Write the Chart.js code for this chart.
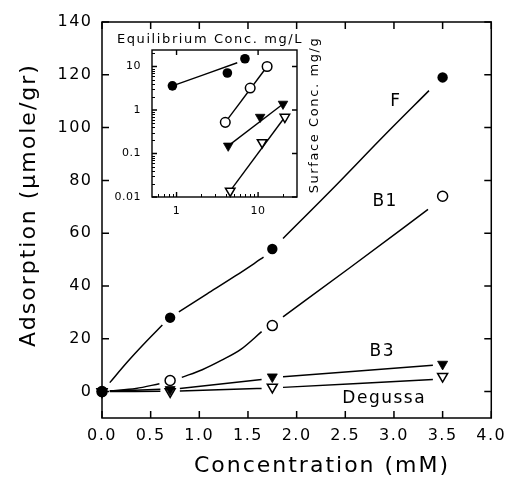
<!DOCTYPE html>
<html><head><meta charset="utf-8">
<script src="https://cdn.jsdelivr.net/npm/chart.js@4.4.1/dist/chart.umd.min.js"></script>
<style>
html,body{margin:0;padding:0;background:#fff;}
#wrap{position:relative;width:512px;height:484px;background:#fff;}
#main{position:absolute;left:0;top:0;}
#inset{position:absolute;left:104px;top:24px;}
</style></head><body>
<div id="wrap"><canvas id="main" width="512" height="484"></canvas><canvas id="inset" width="222" height="196"></canvas></div>
<script>
// ---------- main chart data ----------
const concentrations = [0, 0.7, 1.75, 3.5];
const adsF   = [0, 28, 54, 119];
const adsB1  = [0, 4.2, 25, 74];
const adsB3  = [0, 0.8, 5.6, 10.4];
const adsDeg = [0, 0, 1.7, 5.8];

// fitted curves as drawn (null = gap in the drawn line)
const curveFX  = [0.08, 0.26, 0.44, 0.62, null, 0.79, 1.08, 1.37, 1.66, null, 1.86, 2.39, 2.9, 3.36];
const curveFY  = [3.4, 11.2, 18.4, 25.2, null, 30.2, 37, 43.8, 50.9, null, 58, 77.6, 97, 114];
const curveB1X = [0.08, 0.35, 0.59, null, 0.82, 1.03, 1.23, 1.43, 1.64, null, 1.86, 2.55, 3.35];
const curveB1Y = [0.3, 1.2, 3, null, 5.4, 8.3, 11.9, 16.1, 22.7, null, 28.3, 47, 69];
const curveB3X = [0.08, 0.6, null, 0.8, 1.64, null, 1.86, 3.4];
const curveB3Y = [0.2, 0.9, null, 1.2, 4.6, null, 5.6, 10];
const curveDegX = [0.08, 0.6, null, 0.8, 1.64, null, 1.86, 3.4];
const curveDegY = [0, 0.1, null, 0.2, 1.2, null, 1.6, 4.6];

const xTicks = [0, 0.5, 1, 1.5, 2, 2.5, 3, 3.5, 4];
const yTicks = [0, 20, 40, 60, 80, 100, 120, 140];

const seriesLabels = ['F', 'B1', 'B3', 'Degussa'];
const labelX = [3.02, 2.91, 2.88, 2.9];
const labelY = [110, 72, 15, -2.5];

// ---------- inset data (log-log) ----------
const eqF   = [0.89, 4.2, 6.9];   const surfF   = [3.6, 7.1, 15.1];
const eqB1  = [3.96, 8.0, 12.9];  const surfB1  = [0.52, 3.2, 10];
const eqB3  = [4.3, 10.6, 20.2];  const surfB3  = [0.15, 0.69, 1.38];
const eqDeg = [4.55, 11.2, 21.3]; const surfDeg = [0.0138, 0.18, 0.69];
const fitFX = [0.89, 5.55];   const fitFY = [3.6, 12.2];
const fitB1X = [3.96, 12.9];  const fitB1Y = [0.52, 10];
const fitB3X = [4.3, 20.2];   const fitB3Y = [0.15, 1.38];
const fitDegX = [4.55, 21.3]; const fitDegY = [0.0138, 0.69];
const insetXTicks = [1, 10];
const insetYTicks = [0.01, 0.1, 1, 10];

// ---------- helpers ----------
const FONT = 'DejaVu Sans';
const pts = (xs, ys) => xs.map((x, i) => ({x, y: ys[i]}));
function segs(xs, ys) {
  const out = []; let cur = [];
  xs.forEach((x, i) => {
    if (x === null) { if (cur.length) out.push(cur); cur = []; }
    else cur.push({x, y: ys[i]});
  });
  if (cur.length) out.push(cur);
  return out;
}
const markerBase = {type: 'scatter', showLine: false, clip: false, pointHoverRadius: 0};
const styles = [
  {pointStyle: 'circle', pointRadius: 5.2, pointBackgroundColor: '#000', pointBorderColor: '#000', pointBorderWidth: 0},
  {pointStyle: 'circle', pointRadius: 5, pointBackgroundColor: '#fff', pointBorderColor: '#000', pointBorderWidth: 1.5},
  {pointStyle: 'triangle', rotation: 180, pointRadius: 5.8, pointBackgroundColor: '#000', pointBorderColor: '#000', pointBorderWidth: 0.8},
  {pointStyle: 'triangle', rotation: 180, pointRadius: 5.8, pointBackgroundColor: '#fff', pointBorderColor: '#000', pointBorderWidth: 1.5}
];
function lineDs(data, w) {
  return {type: 'scatter', showLine: true, data, borderColor: '#000', borderWidth: w,
          pointRadius: 0, pointHoverRadius: 0, cubicInterpolationMode: 'monotone', fill: false, clip: false};
}

// ---------- main chart ----------
const mainSets = [
  {...markerBase, ...styles[0], data: pts(concentrations, adsF)},
  {...markerBase, ...styles[1], data: pts(concentrations, adsB1)},
  {...markerBase, ...styles[2], data: pts(concentrations, adsB3)},
  {...markerBase, ...styles[3], data: pts(concentrations, adsDeg)}
];
[[curveFX, curveFY], [curveB1X, curveB1Y], [curveB3X, curveB3Y], [curveDegX, curveDegY]]
  .forEach(([xs, ys]) => segs(xs, ys).forEach(s => mainSets.push(lineDs(s, 1.5))));

const mainDecor = {
  id: 'mainDecor',
  beforeDraw(chart) { chart.ctx.letterSpacing = '1.5px'; },
  beforeDatasetsDraw(chart) {
    const {ctx, chartArea: a, scales: {x, y}} = chart;
    ctx.save();
    ctx.strokeStyle = '#000'; ctx.lineWidth = 1.5;
    ctx.strokeRect(a.left, a.top, a.right - a.left, a.bottom - a.top);
    ctx.beginPath();
    xTicks.forEach(v => { const p = x.getPixelForValue(v);
      ctx.moveTo(p, a.bottom); ctx.lineTo(p, a.bottom - 7);
      ctx.moveTo(p, a.top); ctx.lineTo(p, a.top + 7); });
    yTicks.forEach(v => { const p = y.getPixelForValue(v);
      ctx.moveTo(a.left, p); ctx.lineTo(a.left + 7, p);
      ctx.moveTo(a.right, p); ctx.lineTo(a.right - 7, p); });
    ctx.stroke();
    ctx.restore();
  },
  afterDraw(chart) {
    const {ctx, scales: {x, y}} = chart;
    ctx.save();
    ctx.fillStyle = '#000';
    ctx.textAlign = 'center'; ctx.textBaseline = 'middle';
    ctx.font = '22px "' + FONT + '"';
    ctx.letterSpacing = '2px';
    ctx.fillText('Concentration (mM)', 322, 466);
    ctx.save();
    ctx.translate(29, 205); ctx.rotate(-Math.PI / 2);
    ctx.fillText('Adsorption (\u03BCmole/gr)', 0, 0);
    ctx.restore();
    ctx.font = '17px "' + FONT + '"';
    ctx.letterSpacing = '1.5px';
    seriesLabels.forEach((t, i) => ctx.fillText(t, x.getPixelForValue(labelX[i]), y.getPixelForValue(labelY[i])));
    ctx.restore();
  }
};

new Chart(document.getElementById('main'), {
  data: {datasets: mainSets},
  options: {
    responsive: false, animation: false, devicePixelRatio: 1, events: [],
    layout: {padding: {top: 22, right: 17, left: 0, bottom: 0}},
    plugins: {legend: {display: false}, tooltip: {enabled: false}},
    scales: {
      x: {type: 'linear', min: 0, max: 4, position: 'bottom',
          grid: {display: false, drawTicks: false}, border: {display: false},
          ticks: {padding: 8, autoSkip: false, maxRotation: 0, color: '#000',
                  font: {family: FONT, size: 16}, callback: v => Number(v).toFixed(1)},
          afterBuildTicks: s => { s.ticks = xTicks.map(v => ({value: v})); },
          afterFit: s => { s.height = 66; }},
      y: {type: 'linear', min: -10, max: 140, position: 'left',
          grid: {display: false, drawTicks: false}, border: {display: false},
          ticks: {padding: 9.5, color: '#000', font: {family: FONT, size: 16}, callback: v => String(v)},
          afterBuildTicks: s => { s.ticks = yTicks.map(v => ({value: v})); },
          afterFit: s => { s.width = 102; }}
    }
  },
  plugins: [mainDecor]
});

// ---------- inset chart ----------
const insetSets = [
  {...markerBase, ...styles[0], pointRadius: 4.8, data: pts(eqF, surfF)},
  {...markerBase, ...styles[1], pointRadius: 4.8, data: pts(eqB1, surfB1)},
  {...markerBase, ...styles[2], pointRadius: 5.5, data: pts(eqB3, surfB3)},
  {...markerBase, ...styles[3], pointRadius: 5.5, data: pts(eqDeg, surfDeg)},
  lineDs(pts(fitFX, fitFY), 1.4),
  lineDs(pts(fitB1X, fitB1Y), 1.4),
  lineDs(pts(fitB3X, fitB3Y), 1.4),
  lineDs(pts(fitDegX, fitDegY), 1.4)
];

function minorLog(min, max) {
  const out = [];
  for (let e = Math.floor(Math.log10(min)); e <= Math.ceil(Math.log10(max)); e++) {
    for (let k = 2; k <= 9; k++) { const v = k * Math.pow(10, e); if (v > min && v < max) out.push(v); }
  }
  return out;
}

const insetDecor = {
  id: 'insetDecor',
  beforeDraw(chart) { chart.ctx.letterSpacing = '0.5px'; },
  beforeDatasetsDraw(chart) {
    const {ctx, chartArea: a, scales: {x, y}} = chart;
    ctx.save();
    ctx.strokeStyle = '#000'; ctx.lineWidth = 1.4;
    ctx.strokeRect(a.left, a.top, a.right - a.left, a.bottom - a.top);
    ctx.beginPath();
    insetXTicks.forEach(v => { const p = x.getPixelForValue(v);
      ctx.moveTo(p, a.bottom); ctx.lineTo(p, a.bottom - 5);
      ctx.moveTo(p, a.top); ctx.lineTo(p, a.top + 5); });
    insetYTicks.forEach(v => { const p = y.getPixelForValue(v);
      ctx.moveTo(a.left, p); ctx.lineTo(a.left + 5, p);
      ctx.moveTo(a.right, p); ctx.lineTo(a.right - 5, p); });
    ctx.stroke();
    ctx.lineWidth = 1;
    ctx.beginPath();
    minorLog(x.min, x.max).forEach(v => { const p = Math.round(x.getPixelForValue(v)) + 0.5;
      ctx.moveTo(p, a.bottom); ctx.lineTo(p, a.bottom - 3); });
    minorLog(y.min, y.max).forEach(v => { const p = Math.round(y.getPixelForValue(v)) + 0.5;
      ctx.moveTo(a.left, p); ctx.lineTo(a.left + 3, p); });
    ctx.stroke();
    ctx.restore();
  },
  afterDraw(chart) {
    const {ctx} = chart;
    ctx.save();
    ctx.fillStyle = '#000';
    ctx.textAlign = 'center'; ctx.textBaseline = 'middle';
    ctx.font = '13px "' + FONT + '"';
    ctx.letterSpacing = '1.6px';
    ctx.fillText('Equilibrium Conc. mg/L', 106, 16);
    ctx.translate(211, 91); ctx.rotate(-Math.PI / 2);
    ctx.fillText('Surface Conc. mg/g', 0, 0);
    ctx.restore();
  }
};

new Chart(document.getElementById('inset'), {
  data: {datasets: insetSets},
  options: {
    responsive: false, animation: false, devicePixelRatio: 1, events: [],
    layout: {padding: {top: 26, right: 29, left: 0, bottom: 0}},
    plugins: {legend: {display: false}, tooltip: {enabled: false}},
    scales: {
      x: {type: 'logarithmic', min: 0.5, max: 30, position: 'bottom',
          grid: {display: false, drawTicks: false}, border: {display: false},
          ticks: {padding: 8, autoSkip: false, maxRotation: 0, color: '#000',
                  font: {family: FONT, size: 11}, callback: v => String(v)},
          afterBuildTicks: s => { s.ticks = insetXTicks.map(v => ({value: v})); },
          afterFit: s => { s.height = 23; }},
      y: {type: 'logarithmic', min: 0.01, max: 24, position: 'left',
          grid: {display: false, drawTicks: false}, border: {display: false},
          ticks: {padding: 11, color: '#000', font: {family: FONT, size: 11}, callback: v => String(v)},
          afterBuildTicks: s => { s.ticks = insetYTicks.map(v => ({value: v})); },
          afterFit: s => { s.width = 48; }}
    }
  },
  plugins: [insetDecor]
});
</script>
</body></html>
